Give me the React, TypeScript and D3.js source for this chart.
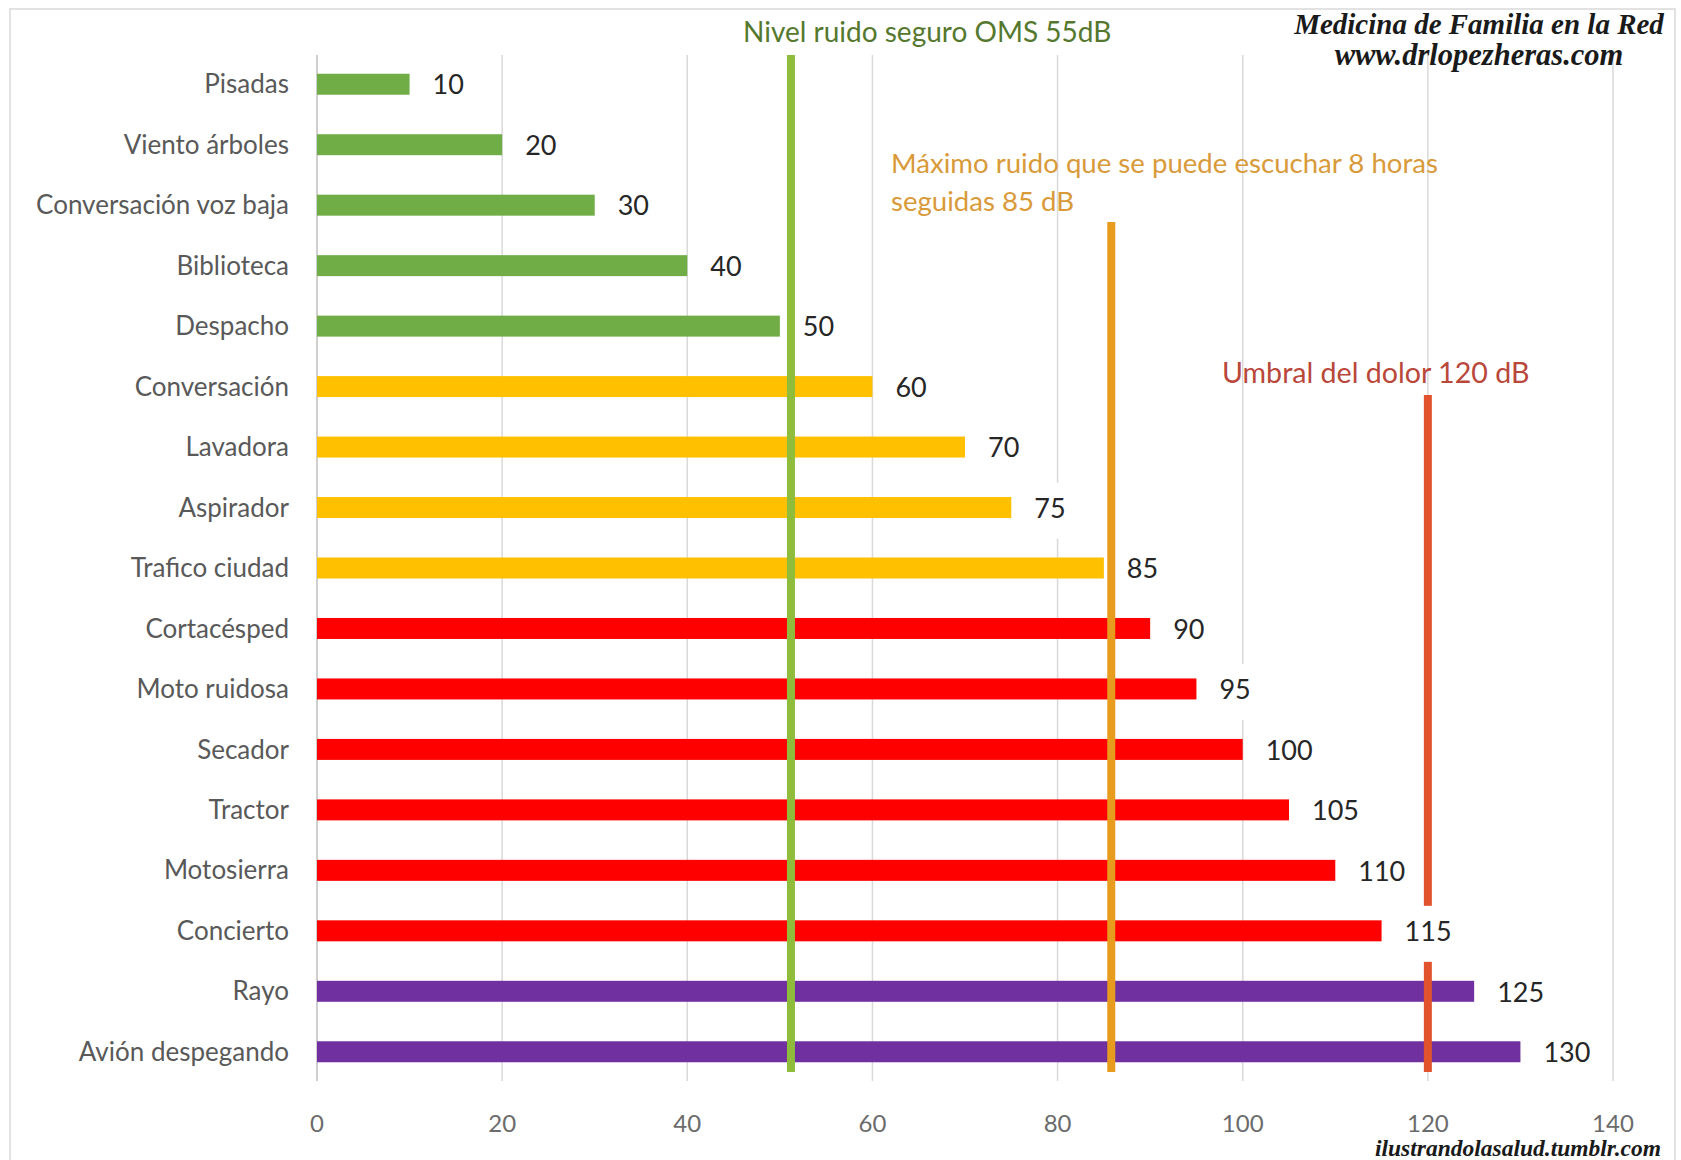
import React from "react";
import * as d3 from "d3";

const categories = [
  "Pisadas", "Viento árboles", "Conversación voz baja", "Biblioteca", "Despacho",
  "Conversación", "Lavadora", "Aspirador", "Trafico ciudad", "Cortacésped",
  "Moto ruidosa", "Secador", "Tractor", "Motosierra", "Concierto", "Rayo", "Avión despegando",
];
const values = [10, 20, 30, 40, 50, 60, 70, 75, 85, 90, 95, 100, 105, 110, 115, 125, 130];
const groups = [
  "safe", "safe", "safe", "safe", "safe",
  "moderate", "moderate", "moderate", "moderate",
  "loud", "loud", "loud", "loud", "loud", "loud",
  "extreme", "extreme",
];
const groupColors: Record<string, string> = {
  safe: "#70ad47",
  moderate: "#ffc000",
  loud: "#ff0000",
  extreme: "#7030a0",
};
const xTicks = [0, 20, 40, 60, 80, 100, 120, 140];

// reference lines: value position
const refValues = [51.2, 85.8, 120];
const refTops = [55, 222, 395];
const refColors = ["#8fbd3b", "#e89c1e", "#e0532c"];
const refTextColors = ["#55782e", "#d99a3a", "#b9473a"];
const refTexts = [
  ["Nivel ruido seguro OMS 55dB"],
  ["Máximo ruido que se puede escuchar 8 horas", "seguidas 85 dB"],
  ["Umbral del dolor 120 dB"],
];

const W = 1681;
const H = 1160;

export default function App() {
  const x = d3.scaleLinear().domain([0, 140]).range([317, 1613]);
  const y = d3
    .scaleBand<string>()
    .domain(categories)
    .range([54, 1082])
    .paddingInner(0.653)
    .paddingOuter(0.3265);
  const bw = y.bandwidth();
  const font = "Lato, 'Open Sans', sans-serif";
  const serif = "'Liberation Serif', 'DejaVu Serif', serif";

  const textPos = [
    { x: 743, y: [42], size: 28 },
    { x: 891, y: [173, 211], size: 27.6 },
    { x: 1222, y: [383], size: 28.6 },
  ];

  return (
    <div style={{ position: "absolute", left: 0, top: 0 }}>
      <svg width={W} height={H} style={{ display: "block", background: "#fff" }}>
        <rect x={10} y={9} width={1665} height={1170} fill="#fff" stroke="#d9d9d9" strokeWidth={1.5} />
        {/* gridlines */}
        {xTicks.map((t) => (
          <line
            key={"g" + t}
            x1={x(t)}
            x2={x(t)}
            y1={55}
            y2={1081}
            stroke={t === 0 ? "#bfbfbf" : "#d9d9d9"}
            strokeWidth={1.5}
          />
        ))}
        {/* tick labels */}
        {xTicks.map((t) => (
          <text
            key={"t" + t}
            x={x(t)}
            y={1132}
            textAnchor="middle"
            fontFamily={font}
            fontSize={24}
            fill="#6b6b6b"
          >
            {t}
          </text>
        ))}
        {/* bars */}
        {categories.map((c, i) => (
          <rect
            key={"b" + c}
            x={x(0)}
            y={y(c)!}
            width={x(values[i]) - x(0)}
            height={bw}
            fill={groupColors[groups[i]]}
          />
        ))}
        {/* category labels */}
        {categories.map((c) => (
          <text
            key={"c" + c}
            x={289}
            y={y(c)! + bw / 2}
            dy="0.35em"
            textAnchor="end"
            fontFamily={font}
            fontSize={26}
            fill="#595959"
          >
            {c}
          </text>
        ))}
        {/* reference lines */}
        {refValues.map((v, i) => (
          <line
            key={"r" + i}
            x1={x(v)}
            x2={x(v)}
            y1={refTops[i]}
            y2={1072}
            stroke={refColors[i]}
            strokeWidth={8}
          />
        ))}
        {/* value labels with white boxes */}
        {categories.map((c, i) => {
          const lx = x(values[i]) + 23;
          const cy = y(c)! + bw / 2;
          const s = String(values[i]);
          const w = s.length * 15 + 2;
          return (
            <g key={"v" + c}>
              <rect x={lx - 1} y={cy - 25} width={w} height={56} fill="#fff" />
              <text
                x={lx}
                y={cy}
                dy="0.38em"
                fontFamily={font}
                fontSize={27}
                fill="#262626"
              >
                {s}
              </text>
            </g>
          );
        })}
        {/* reference texts */}
        {refTexts.map((lines, i) =>
          lines.map((ln, j) => (
            <text
              key={"rt" + i + "-" + j}
              x={textPos[i].x}
              y={textPos[i].y[j]}
              fontFamily={font}
              fontSize={textPos[i].size}
              fill={refTextColors[i]}
            >
              {ln}
            </text>
          ))
        )}
        {/* credits */}
        <text
          x={1479}
          y={34}
          textAnchor="middle"
          fontFamily={serif}
          fontStyle="italic"
          fontWeight="bold"
          fontSize={29}
          fill="#1a1a1a"
        >
          Medicina de Familia en la Red
        </text>
        <text
          x={1479}
          y={65}
          textAnchor="middle"
          fontFamily={serif}
          fontStyle="italic"
          fontWeight="bold"
          fontSize={30.5}
          fill="#1a1a1a"
        >
          www.drlopezheras.com
        </text>
        <text
          x={1661}
          y={1156}
          textAnchor="end"
          fontFamily={serif}
          fontStyle="italic"
          fontWeight="bold"
          fontSize={23.5}
          fill="#1a1a1a"
        >
          ilustrandolasalud.tumblr.com
        </text>
      </svg>
    </div>
  );
}
